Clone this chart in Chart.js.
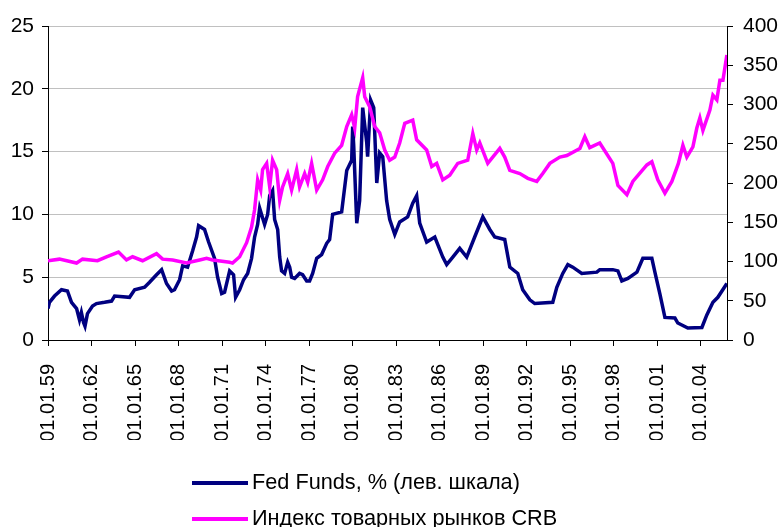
<!DOCTYPE html>
<html>
<head>
<meta charset="utf-8">
<script src="https://cdn.jsdelivr.net/npm/chart.js@4.4.0/dist/chart.umd.min.js"></script>
<style>
  body { margin: 0; background: #fff; }
  #wrap { position: relative; width: 780px; height: 527px; }
  .leg { position: absolute; left: 192px; height: 26px; font: 21.7px "Liberation Sans", Arial, sans-serif; color: #000; line-height: 26px; white-space: nowrap; }
  .leg span { display: inline-block; width: 56px; height: 4px; vertical-align: middle; margin-right: 4px; }
</style>
</head>
<body>
<div id="wrap">
  <canvas id="chart" width="780" height="527"></canvas>
  <div class="leg" style="top:469px"><span style="background:#000080"></span>Fed Funds, % (лев. шкала)</div>
  <div class="leg" style="top:505px"><span style="background:#ff00ff"></span>Индекс товарных рынков CRB</div>
</div>
<script>
// Fed Funds rate, % (left scale), dates as decimal years
const fedDates = [1959.0, 1959.1, 1959.45, 1959.93, 1960.34, 1960.62, 1960.97, 1961.17, 1961.3, 1961.45,
  1961.55, 1961.72, 1962.07, 1962.34, 1962.9, 1963.38, 1963.59, 1964.62, 1964.97, 1965.66,
  1966.0, 1966.48, 1966.83, 1967.17, 1967.52, 1967.72, 1968.07, 1968.28, 1968.62, 1968.97,
  1969.24, 1969.38, 1969.79, 1970.07, 1970.48, 1970.69, 1970.97, 1971.17, 1971.52, 1971.79,
  1971.93, 1972.21, 1972.48, 1972.76, 1973.03, 1973.24, 1973.45, 1973.59, 1973.72, 1973.93,
  1974.14, 1974.28, 1974.48, 1974.62, 1974.83, 1974.97, 1975.1, 1975.31, 1975.52, 1975.66,
  1975.79, 1976.0, 1976.34, 1976.55, 1976.83, 1977.03, 1977.24, 1977.52, 1977.86, 1978.21,
  1978.41, 1978.62, 1979.24, 1979.59, 1979.93, 1980.0, 1980.07, 1980.28, 1980.48, 1980.69,
  1980.97, 1981.03, 1981.24, 1981.45, 1981.66, 1981.86, 1982.07, 1982.34, 1982.55, 1982.9,
  1983.24, 1983.79, 1984.14, 1984.41, 1984.62, 1985.1, 1985.66, 1986.21, 1986.48, 1986.9,
  1987.38, 1987.86, 1988.41, 1988.97, 1989.45, 1989.79, 1990.48, 1990.83, 1991.38, 1991.72,
  1992.21, 1992.55, 1993.79, 1994.07, 1994.48, 1994.83, 1995.17, 1995.79, 1996.83, 1997.03,
  1997.93, 1998.28, 1998.55, 1998.97, 1999.59, 2000.0, 2000.62, 2000.83, 2001.17, 2001.52,
  2002.21, 2002.41, 2003.1, 2004.07, 2004.41, 2004.83, 2005.17, 2005.79];
const fedRate = [2.5, 3.0, 3.5, 4.0, 3.9, 3.0, 2.5, 1.6, 2.2, 1.4,
  1.1, 2.1, 2.7, 2.9, 3.0, 3.1, 3.5, 3.4, 4.0, 4.2,
  4.6, 5.2, 5.6, 4.5, 3.9, 4.0, 4.8, 5.9, 5.8, 7.1,
  8.2, 9.1, 8.8, 7.8, 6.5, 5.0, 3.7, 3.8, 5.5, 5.2,
  3.4, 4.0, 4.8, 5.3, 6.5, 8.2, 9.2, 10.5, 10.0, 9.2,
  10.0, 11.5, 11.9, 9.6, 8.8, 6.6, 5.5, 5.3, 6.2, 5.8,
  5.0, 4.9, 5.3, 5.2, 4.7, 4.7, 5.3, 6.5, 6.8, 7.7,
  8.0, 10.0, 10.2, 13.5, 14.3, 17.0, 15.5, 9.3, 11.1, 18.5,
  15.7, 14.6, 19.1, 18.5, 12.5, 14.9, 14.6, 11.1, 9.6, 8.4,
  9.4, 9.8, 10.9, 11.5, 9.3, 7.8, 8.2, 6.6, 6.0, 6.6,
  7.3, 6.6, 8.2, 9.8, 8.8, 8.2, 8.0, 5.8, 5.3, 4.0,
  3.2, 2.9, 3.0, 4.2, 5.3, 6.0, 5.8, 5.3, 5.4, 5.6,
  5.6, 5.5, 4.7, 4.9, 5.4, 6.5, 6.5, 5.4, 3.7, 1.8,
  1.75, 1.35, 0.95, 1.0, 2.0, 3.0, 3.4, 4.5];

// CRB commodity index (right scale)
const crbDates = [1959.0, 1959.79, 1960.97, 1961.38, 1962.41, 1963.03, 1963.86, 1964.41, 1964.83, 1965.52,
  1966.48, 1966.9, 1967.59, 1968.55, 1969.45, 1969.93, 1970.34, 1971.52, 1971.72, 1972.21,
  1972.69, 1973.03, 1973.24, 1973.45, 1973.66, 1973.79, 1974.07, 1974.28, 1974.48, 1974.76,
  1974.97, 1975.17, 1975.52, 1975.79, 1976.14, 1976.34, 1976.69, 1976.9, 1977.17, 1977.52,
  1977.93, 1978.28, 1978.76, 1979.24, 1979.59, 1979.93, 1980.14, 1980.34, 1980.69, 1980.83,
  1981.17, 1981.52, 1981.86, 1982.21, 1982.55, 1982.9, 1983.24, 1983.59, 1984.14, 1984.41,
  1985.1, 1985.45, 1985.79, 1986.21, 1986.69, 1987.24, 1987.93, 1988.28, 1988.55, 1988.76,
  1989.31, 1990.14, 1990.48, 1990.83, 1991.52, 1992.07, 1992.69, 1993.1, 1993.59, 1994.28,
  1994.76, 1995.66, 1996.0, 1996.34, 1997.03, 1997.93, 1998.28, 1998.9, 1999.31, 2000.28,
  2000.62, 2001.03, 2001.52, 2002.0, 2002.45, 2002.76, 2003.03, 2003.45, 2003.72, 2003.93,
  2004.14, 2004.62, 2004.83, 2005.1, 2005.31, 2005.52, 2005.79];
const crbIndex = [101, 103, 98, 103, 101, 106, 112, 102, 106, 101,
  110, 103, 102, 98, 102, 104, 102, 99, 98, 106,
  124, 144, 166, 204, 191, 217, 225, 195, 229, 217,
  178, 195, 212, 191, 217, 195, 212, 201, 225, 191,
  204, 221, 238, 248, 272, 287, 270, 310, 334, 310,
  297, 272, 264, 242, 229, 233, 251, 276, 280, 255,
  242, 221, 225, 204, 210, 225, 229, 263, 242, 251,
  225, 244, 233, 216, 212, 206, 202, 212, 225, 233,
  235, 244, 259, 245, 251, 225, 197, 185, 202, 223,
  227, 204, 187, 202, 225, 248, 233, 246, 270, 283,
  267, 293, 312, 306, 331, 331, 363];

// x-axis ticks every 3 years
const tickYears = [1959, 1962, 1965, 1968, 1971, 1974, 1977, 1980, 1983, 1986, 1989, 1992, 1995, 1998, 2001, 2004];
const tickLabels = ['01.01.59', '01.01.62', '01.01.65', '01.01.68', '01.01.71', '01.01.74', '01.01.77', '01.01.80',
  '01.01.83', '01.01.86', '01.01.89', '01.01.92', '01.01.95', '01.01.98', '01.01.01', '01.01.04'];

const font = { family: '"Liberation Sans", Arial, sans-serif', size: 21 };

new Chart(document.getElementById('chart'), {
  type: 'line',
  data: {
    datasets: [{
      label: 'Fed Funds, % (лев. шкала)',
      data: fedDates.map((d, i) => ({ x: d, y: fedRate[i] })),
      borderColor: '#000080',
      borderWidth: 3.5,
      yAxisID: 'y',
      order: 1
    }, {
      label: 'Индекс товарных рынков CRB',
      data: crbDates.map((d, i) => ({ x: d, y: crbIndex[i] })),
      borderColor: '#ff00ff',
      borderWidth: 3.5,
      yAxisID: 'y2',
      order: 0
    }]
  },
  options: {
    responsive: false,
    animation: false,
    elements: { point: { radius: 0 }, line: { tension: 0 } },
    layout: { padding: { top: 26, left: 0, right: 0, bottom: 87 } },
    plugins: { legend: { display: false }, tooltip: { enabled: false } },
    scales: {
      x: {
        type: 'linear',
        min: 1959,
        max: 2005.8,
        afterBuildTicks: s => { s.ticks = tickYears.map(v => ({ value: v })); },
        afterFit: s => { s.height = 100; },
        grid: { drawOnChartArea: false, tickLength: 6, tickColor: '#000' },
        border: { color: '#000' },
        ticks: {
          color: '#000',
          font: { family: font.family, size: 20 },
          minRotation: 90,
          maxRotation: 90,
          autoSkip: false,
          padding: 18,
          callback: v => tickLabels[tickYears.indexOf(v)]
        }
      },
      y: {
        position: 'left',
        min: 0,
        max: 25,
        afterFit: s => { s.width = 48; },
        grid: {
          color: c => c.tick.value === 0 ? 'rgba(0,0,0,0)' : '#c0c0c0',
          tickColor: '#000',
          tickLength: 6
        },
        border: { color: '#000' },
        ticks: { stepSize: 5, color: '#000', font: font, padding: 8 }
      },
      y2: {
        position: 'right',
        min: 0,
        max: 400,
        afterFit: s => { s.width = 53; },
        grid: { drawOnChartArea: false, tickColor: '#000', tickLength: 6 },
        border: { color: '#000' },
        ticks: { stepSize: 50, color: '#000', font: font, padding: 10 }
      }
    }
  }
});
</script>
</body>
</html>
